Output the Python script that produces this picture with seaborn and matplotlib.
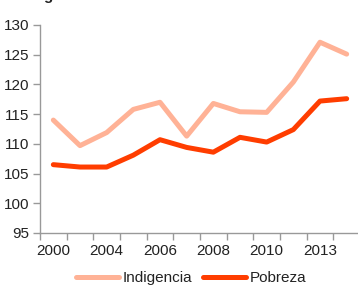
import matplotlib
matplotlib.use("Agg")
import matplotlib.pyplot as plt
import seaborn as sns
import pandas as pd
import numpy as np

years = ["2000", "2002", "2004", "2005", "2006", "2007", "2008", "2009", "2010", "2011", "2013", "2014"]
tick_labels = ["2000", "", "2004", "", "2006", "", "2008", "", "2010", "", "2013", ""]
indigencia = [114.0, 109.7, 111.9, 115.8, 117.0, 111.3, 116.8, 115.4, 115.3, 120.4, 127.1, 125.1]
pobreza = [106.5, 106.1, 106.1, 108.1, 110.7, 109.4, 108.6, 111.1, 110.3, 112.4, 117.2, 117.6]
y_ticks = [95, 100, 105, 110, 115, 120, 125, 130]

sns.set_theme(style="white")
plt.rcParams['font.family'] = ['Liberation Sans', 'DejaVu Sans']

df = pd.DataFrame({
    "idx": list(range(len(years))) * 2,
    "valor": indigencia + pobreza,
    "serie": ["Indigencia"] * len(years) + ["Pobreza"] * len(years),
})

fig = plt.figure(figsize=(3.58, 2.87), dpi=100)
ax = fig.add_axes([40/358, 54/287, 320/358, 208/287])

sns.lineplot(data=df, x="idx", y="valor", hue="serie",
             palette={"Indigencia": "#FFB296", "Pobreza": "#FF3D00"},
             linewidth=3.6, ax=ax, legend=True)

fs = 11
ax.set_xlim(-0.5, len(years) - 0.5)
ax.set_ylim(95, 130)
ax.set_yticks(y_ticks)
ax.set_yticklabels([str(v) for v in y_ticks], fontsize=fs)
ax.set_xticks(range(len(years)))
ax.set_xticklabels(tick_labels, fontsize=fs)
ax.set_xticks(np.arange(-0.5, len(years), 1.0), minor=True)
ax.tick_params(axis="x", which="major", length=0, pad=8, colors="#222222")
ax.tick_params(axis="x", which="minor", length=5, width=1, color="#999999", direction="out", bottom=True)
ax.tick_params(axis="y", which="major", length=5, width=1, color="#999999", direction="out", left=True, pad=3)
for lab in ax.get_yticklabels() + ax.get_xticklabels():
    lab.set_color("#222222")
ax.set_xlabel("")
ax.set_ylabel("")
for s in ["top", "right"]:
    ax.spines[s].set_visible(False)
for s in ["left", "bottom"]:
    ax.spines[s].set_color("#999999")
    ax.spines[s].set_linewidth(1)
ax.grid(False)

leg = ax.legend(loc="upper center", bbox_to_anchor=(0.5 - 9/320, -0.155), ncol=2, frameon=False,
                fontsize=fs, handlelength=2.8, handletextpad=0.25, columnspacing=0.7, borderaxespad=0)
for t in leg.get_texts():
    t.set_color("#222222")

fig.text(43/358, 1.0, "g", fontsize=11, fontweight="bold", va="baseline", ha="left", color="#222222")

fig.savefig("out.png", dpi=100)
